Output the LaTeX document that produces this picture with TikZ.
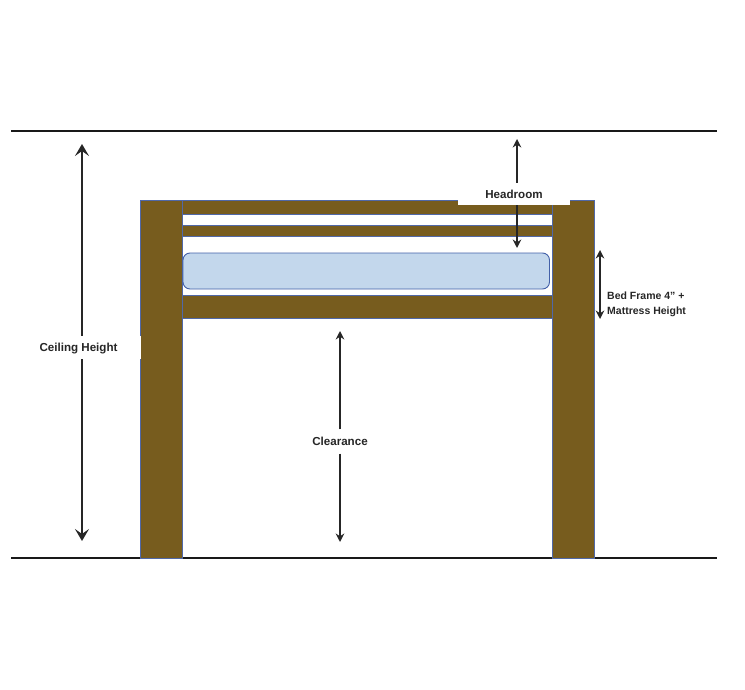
\documentclass[tikz,border=0pt]{standalone}
\usepackage{fontspec}
\setmainfont{Liberation Sans}
\usetikzlibrary{arrows.meta}
\definecolor{woodbrown}{HTML}{775C1E}
\definecolor{woodedge}{HTML}{5068A8}
\definecolor{mattressblue}{HTML}{C3D7EC}
\definecolor{mattressedge}{HTML}{4360A8}
\tikzset{
  wood/.style={fill=woodbrown,draw=woodedge,line width=.8pt},
  floorline/.style={line width=1.9pt,black!90},
  measure/.style={line width=1.6pt,black!85,-{Stealth[length=8.5pt,width=8.5pt]}},
  bigmeasure/.style={line width=1.8pt,black!85,-{Stealth[length=12pt,width=14pt,inset=5pt]}},
  tag/.style={font=\fontsize{11.6}{14}\selectfont\bfseries,text=black!85,fill=white,inner sep=0pt,text depth=0pt},
}
\begin{document}
\begin{tikzpicture}[x=1pt,y=-1pt]
  \useasboundingbox   (0,0) rectangle (745,690);

  \draw[floorline]    (11,131) -- (717,131)
                      (11,558) -- (717,558);

  \draw[wood]         (182,200.5) rectangle (552,214);
  \draw[wood]         (182,225) rectangle (552,236);
  \draw[wood]         (182,295) rectangle (552,318);
  \draw[wood]         (140,200.5) rectangle (182,558);
  \draw[wood]         (552,200.5) rectangle (594,558);
  \draw[fill=mattressblue,draw=mattressedge,line width=.9pt,rounded corners=7pt]
                      (183,253) rectangle (549.5,289);

  \coordinate (ceilingtop)    at (82,144);
  \coordinate (ceilingbottom) at (82,541);
  \coordinate (headtop)       at (517,139);
  \coordinate (headbottom)    at (517,248);
  \coordinate (cleartop)      at (340,331);
  \coordinate (clearbottom)   at (340,542);
  \coordinate (frametop)      at (600,250);
  \coordinate (framebottom)   at (600,319);

  \node[tag,minimum width=125pt,minimum height=23pt] (ceiling)   at (78.5,347.5) {Ceiling Height};
  \node[tag,minimum width=112pt,minimum height=22pt] (headroom)  at (514,194)    {Headroom};
  \node[tag,minimum width=60pt,minimum height=24pt]  (clearance) at (340,441.5)  {Clearance};
  \node[anchor=west,align=left,inner sep=0pt,text=black!85,font=\fontsize{10.5}{15}\selectfont\bfseries]
                                                     (frame)     at (607,304)    {Bed Frame 4" +\\Mattress Height};

  \draw[bigmeasure]   (ceiling.north -| ceilingtop) -- (ceilingtop);
  \draw[bigmeasure]   (ceiling.south -| ceilingtop) -- (ceilingbottom);
  \draw[measure]      (headroom.north -| headtop)   -- (headtop);
  \draw[measure]      (headroom.south -| headtop)   -- (headbottom);
  \draw[measure]      (clearance.north)             -- (cleartop);
  \draw[measure]      (clearance.south)             -- (clearbottom);
  \draw[measure,{Stealth[length=8.5pt,width=8.5pt]}-{Stealth[length=8.5pt,width=8.5pt]}]
                      (frametop) -- (framebottom);
\end{tikzpicture}
\end{document}
